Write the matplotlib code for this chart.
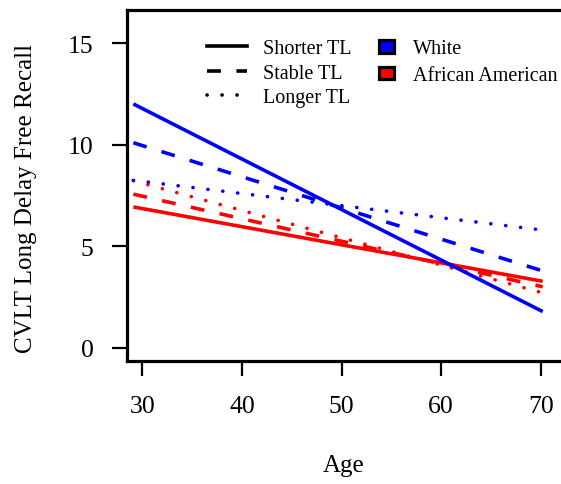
import matplotlib
matplotlib.use("Agg")
import matplotlib.pyplot as plt
from matplotlib.lines import Line2D
from matplotlib.patches import Patch

plt.rcParams['font.family'] = ['Liberation Serif', 'DejaVu Serif']
plt.rcParams['lines.scale_dashes'] = False

# ---- data ----
ages = [29.1, 70.2]
white_shorter = [12.0, 1.78]
white_stable = [10.09, 3.78]
white_longer = [8.24, 5.79]
aa_shorter = [6.93, 3.27]
aa_stable = [7.56, 3.0]
aa_longer = [8.22, 2.70]

x_ticks = [30, 40, 50, 60, 70]
y_ticks = [0, 5, 10, 15]
tl_labels = ["Shorter TL", "Stable TL", "Longer TL"]
race_labels = ["White", "African American"]
race_colors = ["#0000FF", "#FF0000"]

W, H = 561, 485
DPI = 100
fig = plt.figure(figsize=(W / DPI, H / DPI), dpi=DPI)

left_px, right_px, top_px, bottom_px = 127, 561, 10.7, 361.7
ax = fig.add_axes([left_px / W, 1 - bottom_px / H,
                   (right_px - left_px) / W, (bottom_px - top_px) / H])

LW = 2.6
dash = (0, (10.0, 11.2))
dot = (0, (0.1, 10.7))
styles = ['-', dash, dot]

series = [
    (race_colors[1], [aa_shorter, aa_stable, aa_longer]),
    (race_colors[0], [white_shorter, white_stable, white_longer]),
]
for color, ys in series:
    for y, ls in zip(ys, styles):
        cap = 'round' if ls is dot else 'butt'
        ax.plot(ages, y, color=color, lw=LW, linestyle=ls,
                dash_capstyle=cap, solid_capstyle='butt')

ax.set_xlim(28.46, 72.04)
ax.set_ylim(-0.64, 16.64)
ax.set_xticks(x_ticks)
ax.set_yticks(y_ticks)
ax.tick_params(axis='both', direction='out', length=11, width=1.6,
               labelsize=18.5, colors='black')
ax.tick_params(axis='x', pad=13.5)
ax.tick_params(axis='y', pad=13)

for s in ['left', 'top', 'bottom']:
    ax.spines[s].set_linewidth(2.3)
ax.spines['right'].set_visible(False)

ax.set_xlabel("Age", fontsize=18, va='baseline')
ax.xaxis.set_label_coords(0.5, (bottom_px - 471.7) / (bottom_px - top_px))
ax.set_ylabel("CVLT Long Delay Free Recall", fontsize=18, va='baseline')
ax.yaxis.set_label_coords((32.3 - left_px) / (right_px - left_px),
                          (bottom_px - 198) / (bottom_px - top_px))

# legend 1: line types
h1 = [Line2D([], [], color='black', lw=LW, linestyle=ls,
             dash_capstyle='round' if ls is dot else 'butt')
      for ls in styles]
leg1 = ax.legend(h1, tl_labels, loc='upper left',
                 bbox_to_anchor=(207 / W, 1 - 40.0 / H),
                 bbox_transform=fig.transFigure, frameon=False,
                 borderpad=0, borderaxespad=0, fontsize=14.5,
                 handlelength=1.99, handletextpad=0.8, labelspacing=0.27)
ax.add_artist(leg1)

# legend 2: race colours
h2 = [Patch(facecolor=c, edgecolor='black', linewidth=2.3) for c in race_colors]
leg2 = ax.legend(h2, race_labels, loc='upper left',
                 bbox_to_anchor=(378.8 / W, 1 - 40.5 / H),
                 bbox_transform=fig.transFigure, frameon=False,
                 borderpad=0, borderaxespad=0, fontsize=14.5,
                 handlelength=0.73, handleheight=0.57, handletextpad=0.95,
                 labelspacing=0.38)

fig.savefig("out.png", dpi=DPI)
